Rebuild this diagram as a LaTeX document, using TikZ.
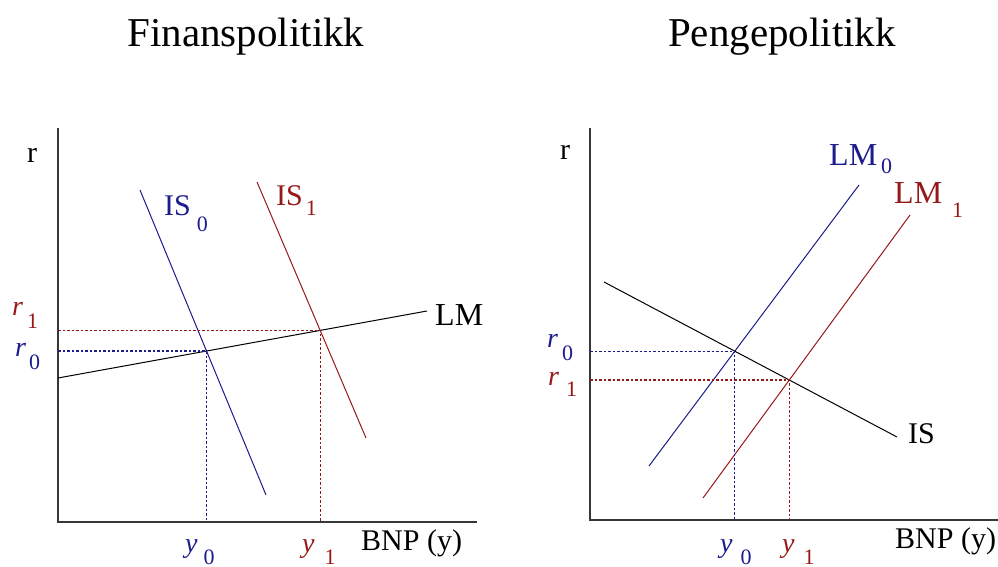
\documentclass[tikz,border=0pt]{standalone}
\usepackage{fontspec}
\setmainfont{Liberation Serif}
\usetikzlibrary{intersections}
\definecolor{navy}{RGB}{28,28,140}
\definecolor{darkred}{RGB}{150,25,25}
\definecolor{axisgray}{RGB}{55,55,55}
\newcommand{\fsz}[1]{\fontsize{#1}{#1}\selectfont}
\newcommand{\sublab}[4]{#1\hspace{#3}\raisebox{-#4}{\fsz{22}#2}}
\tikzset{
  axisline/.style={axisgray, line width=1.6pt},
  curve/.style={line width=1pt},
  guide/.style={line width=1.1pt, dash pattern=on 2.5pt off 2pt},
  txt/.style={inner sep=0pt, anchor=base west},
  title/.style={inner sep=0pt, anchor=base, font=\fsz{41}},
}
\begin{document}
\begin{tikzpicture}[x=1pt,y=-1pt]
\useasboundingbox (0,0) rectangle (998,567);
\fill[white] (0,0) rectangle (998,567);

% titles
\node[title] (t1) at (246,47) {Finanspolitikk};
\node[title] (t2) at (782,47) {Pengepolitikk};

%% ---------- left panel ----------
\coordinate (Lo) at (58,522);
\coordinate (Ltop) at (58,128);
\coordinate (Lend) at (477,522);
\draw[axisline] (Ltop) -- (Lo) -- (Lend);

\coordinate (is0a) at (140,190); \coordinate (is0b) at (266,495);
\coordinate (is1a) at (257,182); \coordinate (is1b) at (366,438);
\coordinate (lma) at (58,378);  \coordinate (lmb) at (427,311);
\draw[curve, navy, name path=is0] (is0a) -- (is0b);
\draw[curve, darkred, name path=is1] (is1a) -- (is1b);
\draw[curve, black, name path=lm] (lma) -- (lmb);
\path[name intersections={of=is0 and lm, by=E0}];
\path[name intersections={of=is1 and lm, by=E1}];
\draw[guide, navy] (E0 -| Lo) -- (E0) -- (E0 |- Lo);
\draw[guide, darkred] (E1 -| Lo) -- (E1) -- (E1 |- Lo);

\node[txt, font=\fsz{30}] (rL) at (27,162) {r};
\node[txt, font=\fsz{28}, darkred] (r1L) at (12,315) {\sublab{\textit{r}}{1}{4pt}{13pt}};
\node[txt, font=\fsz{28}, navy] (r0L) at (15,356) {\sublab{\textit{r}}{0}{3pt}{13pt}};
\node[txt, font=\fsz{28}, navy] (y0L) at (185,552) {\sublab{\textit{y}}{0}{6pt}{12pt}};
\node[txt, font=\fsz{28}, darkred] (y1L) at (302,552) {\sublab{\textit{y}}{1}{10pt}{12pt}};
\node[txt, font=\fsz{30}] (bnpL) at (361,550) {BNP (y)};
\node[txt, font=\fsz{32}] (lmL) at (435,325) {LM};
\node[txt, font=\fsz{30}, navy] (is0L) at (164,215) {\sublab{IS}{0}{6pt}{16pt}};
\node[txt, font=\fsz{30}, darkred] (is1L) at (276,205) {\sublab{IS}{1}{3pt}{10pt}};

%% ---------- right panel ----------
\coordinate (Ro) at (590,520);
\coordinate (Rtop) at (590,128);
\coordinate (Rend) at (998,520);
\draw[axisline] (Rtop) -- (Ro) -- (Rend);

\coordinate (lm0a) at (649,466); \coordinate (lm0b) at (859,185);
\coordinate (lm1a) at (703,498); \coordinate (lm1b) at (910,215);
\coordinate (isa) at (604,282);  \coordinate (isb) at (897,437);
\draw[curve, navy, name path=lm0] (lm0a) -- (lm0b);
\draw[curve, darkred, name path=lm1] (lm1a) -- (lm1b);
\draw[curve, black, name path=isR] (isa) -- (isb);
\path[name intersections={of=lm0 and isR, by=F0}];
\path[name intersections={of=lm1 and isR, by=F1}];
\draw[guide, navy] (F0 -| Ro) -- (F0) -- (F0 |- Ro);
\draw[guide, darkred] (F1 -| Ro) -- (F1) -- (F1 |- Ro);

\node[txt, font=\fsz{30}] (rR) at (560,160) {r};
\node[txt, font=\fsz{28}, navy] (r0R) at (547,347) {\sublab{\textit{r}}{0}{4pt}{13pt}};
\node[txt, font=\fsz{28}, darkred] (r1R) at (548,385) {\sublab{\textit{r}}{1}{7pt}{11pt}};
\node[txt, font=\fsz{28}, navy] (y0R) at (720,552) {\sublab{\textit{y}}{0}{8pt}{12pt}};
\node[txt, font=\fsz{28}, darkred] (y1R) at (782,552) {\sublab{\textit{y}}{1}{9pt}{12pt}};
\node[txt, font=\fsz{30}] (bnpR) at (895,548) {BNP (y)};
\node[txt, font=\fsz{30}] (isL) at (908,443) {IS};
\node[txt, font=\fsz{32}, navy] (lm0L) at (829,165) {\sublab{LM}{0}{4pt}{8pt}};
\node[txt, font=\fsz{32}, darkred] (lm1L) at (894,203) {\sublab{LM}{1}{10pt}{14pt}};
\end{tikzpicture}
\end{document}
